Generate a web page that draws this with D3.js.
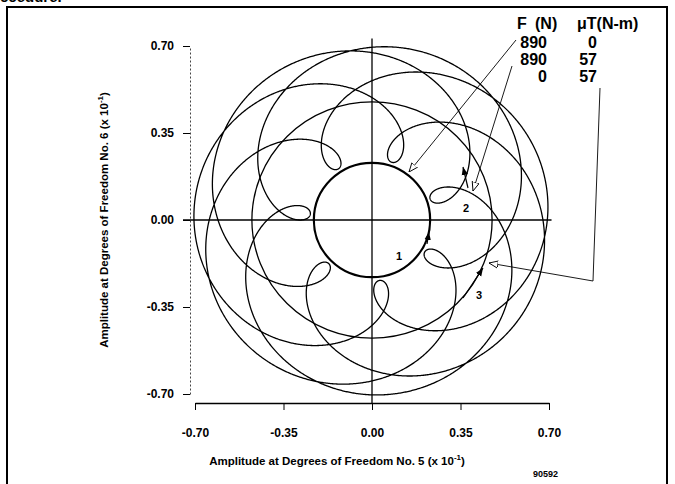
<!DOCTYPE html>
<html>
<head>
<meta charset="utf-8">
<script src="https://cdn.jsdelivr.net/npm/d3@7"></script>
<style>
  body { margin: 0; background: #fff; }
  svg { display: block; }
</style>
</head>
<body>
<svg id="chart" width="675" height="484"></svg>
<script>
// axis ticks, amplitudes in units of 10^-1
const xTicks = [-0.70, -0.35, 0.00, 0.35, 0.70];
const yTicks = [0.70, 0.35, 0.00, -0.35, -0.70];

// legend table
const legendHead = ["F (N)", "\u03BCT(N-m)"];
const forceN = [890, 890, 0];
const torqueNm = [0, 57, 57];

// orbit radii: curve 1 (force only), curve 3 (torque only)
const orbitRadius = [0.23, 0.475];
// whirl speed of force term relative to torque term, angle of first small loop (deg)
const whirlSpeed = [2.75, 1];
const loopAngle = [20];

const font = "'Liberation Sans', Arial, Helvetica, sans-serif";

const svg = d3.select("#chart");
const x = d3.scaleLinear().domain([-0.70, 0.70]).range([195, 549]);
const y = d3.scaleLinear().domain([-0.70, 0.70]).range([394, 46]);

// page frame (scanned page, previous line cut at the top)
svg.append("text")
    .attr("x", 0).attr("y", 2)
    .style("font", "bold 15px " + font)
    .text("ccedure.");
svg.append("path")
    .attr("d", "M7,484V7H667V484")
    .attr("fill", "none").attr("stroke", "#000").attr("stroke-width", 2);

// left axis
const yAxis = svg.append("g")
    .attr("transform", "translate(190,0)")
    .call(d3.axisLeft(y).tickValues(yTicks).tickSize(7).tickSizeOuter(0).tickPadding(9)
        .tickFormat(d => d.toFixed(2)));
yAxis.select(".domain").attr("stroke-dasharray", "2,2").attr("stroke", "#444");
yAxis.selectAll("text").style("font", "bold 12px " + font).attr("fill", "#000");

// bottom axis
const xAxis = svg.append("g")
    .attr("transform", "translate(0,403)")
    .call(d3.axisBottom(x).tickValues(xTicks).tickSize(7).tickSizeOuter(0).tickPadding(18)
        .tickFormat(d => d.toFixed(2)));
xAxis.select(".domain").attr("stroke-width", 1.3);
xAxis.selectAll("text").style("font", "bold 12px " + font).attr("fill", "#000");

// axis titles
const xTitle = svg.append("text")
    .attr("x", 337).attr("y", 465)
    .attr("text-anchor", "middle")
    .style("font", "bold 11.5px " + font);
xTitle.append("tspan").text("Amplitude at Degrees of Freedom No. 5 (x 10");
xTitle.append("tspan").attr("dy", -5).style("font-size", "8px").text("-1");
xTitle.append("tspan").attr("dy", 5).text(")");

const yTitle = svg.append("text")
    .attr("transform", "translate(108,220) rotate(-90)")
    .attr("text-anchor", "middle")
    .style("font", "bold 11.5px " + font);
yTitle.append("tspan").text("Amplitude at Degrees of Freedom No. 6 (x 10");
yTitle.append("tspan").attr("dy", -5).style("font-size", "8px").text("-1");
yTitle.append("tspan").attr("dy", 5).text(")");

svg.append("text")
    .attr("x", 533).attr("y", 477)
    .style("font", "bold 9px " + font)
    .text("90592");

// zero cross lines
svg.append("line")
    .attr("x1", 183).attr("x2", x(0.71))
    .attr("y1", y(0)).attr("y2", y(0))
    .attr("stroke", "#000").attr("stroke-width", 1.6);
svg.append("line")
    .attr("x1", x(0)).attr("x2", x(0))
    .attr("y1", y(0.73)).attr("y2", 403)
    .attr("stroke", "#000").attr("stroke-width", 1.3);

const plot = svg.append("g").attr("fill", "none").attr("stroke", "#000");

// curve 1: force only
plot.append("ellipse")
    .attr("cx", x(0)).attr("cy", y(0))
    .attr("rx", x(orbitRadius[0]) - x(0)).attr("ry", y(0) - y(orbitRadius[0]))
    .attr("stroke-width", 2.2);

// curve 3: torque only
plot.append("ellipse")
    .attr("cx", x(0)).attr("cy", y(0))
    .attr("rx", x(orbitRadius[1]) - x(0)).attr("ry", y(0) - y(orbitRadius[1]))
    .attr("stroke-width", 1.3);

// curve 2: force and torque together (sum of the two orbits)
const rel = whirlSpeed[0] - whirlSpeed[1];
const t0 = loopAngle[0] * Math.PI / 180;
const phase = Math.PI - rel * t0;
const turns = 4;
const combined = d3.range(0, turns * 2 * Math.PI + 0.002, 0.004).map(t => [
    orbitRadius[1] * Math.cos(whirlSpeed[1] * t) + orbitRadius[0] * Math.cos(whirlSpeed[0] * t + phase),
    orbitRadius[1] * Math.sin(whirlSpeed[1] * t) + orbitRadius[0] * Math.sin(whirlSpeed[0] * t + phase)
]);
plot.append("path")
    .datum(combined)
    .attr("stroke-width", 1.3)
    .attr("d", d3.line().x(d => x(d[0])).y(d => y(d[1])));

// legend table
const legendFont = "bold 16px " + font;
svg.append("text").attr("x", 517).attr("y", 29).style("font", legendFont).text("F");
svg.append("text").attr("x", 535).attr("y", 29).style("font", legendFont).text("(N)");
svg.append("text").attr("x", 577).attr("y", 29).style("font", legendFont).text(legendHead[1]);
forceN.forEach((v, i) => {
    svg.append("text").attr("x", 547).attr("y", 48 + i * 17)
        .attr("text-anchor", "end").style("font", legendFont).text(v);
    svg.append("text").attr("x", 597).attr("y", 48 + i * 17)
        .attr("text-anchor", "end").style("font", legendFont).text(torqueNm[i]);
});

// arrow heads
const defs = svg.append("defs");
defs.append("marker").attr("id", "open")
    .attr("viewBox", "0 0 10 10").attr("refX", 10).attr("refY", 5)
    .attr("markerWidth", 9).attr("markerHeight", 9).attr("markerUnits", "userSpaceOnUse")
    .attr("orient", "auto")
    .append("path").attr("d", "M0,1L10,5L0,9Z").attr("fill", "#fff").attr("stroke", "#000");
defs.append("marker").attr("id", "solid")
    .attr("viewBox", "0 0 10 10").attr("refX", 10).attr("refY", 5)
    .attr("markerWidth", 8).attr("markerHeight", 8).attr("markerUnits", "userSpaceOnUse")
    .attr("orient", "auto")
    .append("path").attr("d", "M0,1L10,5L0,9Z").attr("fill", "#000");

// leader lines from the legend rows to each curve
const lead = svg.append("g").attr("fill", "none").attr("stroke", "#000").attr("stroke-width", 0.9);
lead.append("polyline").attr("points", "516,40 409,172").attr("marker-end", "url(#open)");
lead.append("polyline").attr("points", "512,66 473,191").attr("marker-end", "url(#open)");
lead.append("polyline").attr("points", "600,88 593,281 489,263").attr("marker-end", "url(#open)");

// direction arrows
const dir = svg.append("g").attr("fill", "none").attr("stroke", "#000").attr("stroke-width", 1.2);
dir.append("polyline").attr("points", "427,244 429,232").attr("marker-end", "url(#solid)");
dir.append("polyline").attr("points", "468,188 463,167").attr("marker-end", "url(#solid)");
dir.append("polyline").attr("points", "463,298 483,268").attr("marker-end", "url(#solid)");

// curve numbers
[["1", 396, 260], ["2", 463, 212], ["3", 476, 299]].forEach(d => {
    svg.append("text").attr("x", d[1]).attr("y", d[2])
        .style("font", "bold 11px " + font).text(d[0]);
});
</script>
</body>
</html>
